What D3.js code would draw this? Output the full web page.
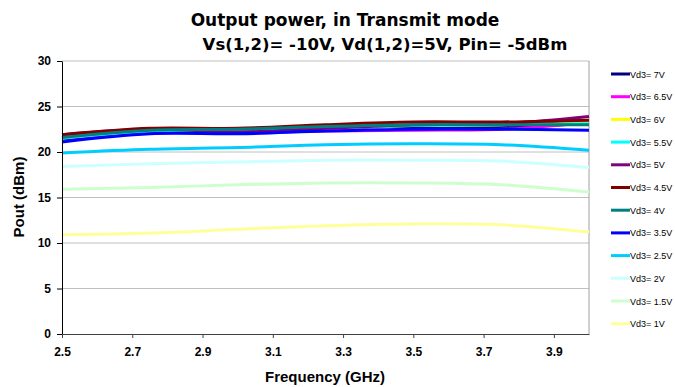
<!DOCTYPE html>
<html>
<head>
<meta charset="utf-8">
<script src="https://cdn.jsdelivr.net/npm/d3@7"></script>
<style>
body { margin: 0; background: #fff; }
text { font-family: "Liberation Sans", Arial, sans-serif; }
</style>
</head>
<body>
<div id="chart"></div>
<script>
var freqs = [2.5, 2.75, 3.0, 3.25, 3.5, 3.75, 4.0]
var seriesNames = ["Vd3= 7V", "Vd3= 6.5V", "Vd3= 6V", "Vd3= 5.5V", "Vd3= 5V", "Vd3= 4.5V", "Vd3= 4V", "Vd3= 3.5V", "Vd3= 2.5V", "Vd3= 2V", "Vd3= 1.5V", "Vd3= 1V"]
var seriesColors = ["#000080", "#ff00ff", "#ffff00", "#00ffff", "#800080", "#800000", "#008080", "#0000ff", "#00ccff", "#ccffff", "#ccffcc", "#ffff99"]
var v7   = [21.4, 22.2, 22.4, 22.7, 22.8, 22.7, 23.2]
var v65  = [21.5, 22.2, 22.2, 22.3, 22.4, 22.5, 23.2]
var v6   = [21.6, 22.3, 22.4, 22.7, 22.9, 23.0, 23.3]
var v55  = [21.5, 22.3, 22.4, 22.7, 22.9, 23.0, 23.1]
var v5   = [21.9, 22.5, 22.2, 22.6, 23.0, 23.1, 23.9]
var v45  = [21.9, 22.6, 22.6, 23.0, 23.3, 23.3, 23.5]
var v4   = [21.6, 22.4, 22.5, 22.8, 23.0, 23.0, 23.0]
var v35  = [21.1, 22.0, 22.0, 22.3, 22.5, 22.5, 22.4]
var v25  = [19.9, 20.3, 20.5, 20.8, 20.9, 20.8, 20.2]
var v2   = [18.4, 18.7, 18.9, 19.1, 19.1, 19.0, 18.3]
var v15  = [15.9, 16.1, 16.4, 16.6, 16.6, 16.4, 15.6]
var v1   = [10.9, 11.1, 11.5, 11.9, 12.1, 12.0, 11.2]
var allValues = [v7, v65, v6, v55, v5, v45, v4, v35, v25, v2, v15, v1]
var xTicks = [2.5, 2.7, 2.9, 3.1, 3.3, 3.5, 3.7, 3.9]
var yTicks = [0, 5, 10, 15, 20, 25, 30]

var svg = d3.select("#chart").append("svg").attr("width", 675).attr("height", 387)

var x = d3.scaleLinear().domain([2.5, 4.0]).range([62, 589])
var y = d3.scaleLinear().domain([0, 30]).range([334, 61])

// gridlines
svg.append("g").selectAll("line").data(yTicks.filter(function(d) { return d > 0 })).enter().append("line")
  .attr("x1", x(2.5)).attr("x2", x(4.0))
  .attr("y1", function(d) { return y(d) }).attr("y2", function(d) { return y(d) })
  .attr("stroke", "#c0c0c0").attr("stroke-width", 1)
svg.append("line").attr("x1", x(4.0)).attr("x2", x(4.0)).attr("y1", y(30)).attr("y2", y(0))
  .attr("stroke", "#a0a0a0").attr("stroke-width", 1)

// lines
var line = d3.line().x(function(d) { return x(d[0]) }).y(function(d) { return y(d[1]) }).curve(d3.curveCatmullRom.alpha(0.5))
var order = d3.range(allValues.length)
svg.append("g").selectAll("path").data(order).enter().append("path")
  .attr("d", function(i) { return line(freqs.map(function(f, j) { return [f, allValues[i][j]] })) })
  .attr("fill", "none")
  .attr("stroke", function(i) { return seriesColors[i] })
  .attr("stroke-width", 3)

// axes
var yAxis = svg.append("g").attr("transform", "translate(" + x(2.5) + ",0)")
  .call(d3.axisLeft(y).tickValues(yTicks).tickSize(5).tickSizeOuter(0))
yAxis.select(".domain").attr("stroke", "#000")
yAxis.selectAll("text").attr("font-size", 12).attr("font-weight", "bold").attr("fill", "#000").attr("dx", -3)

var xAxis = svg.append("g").attr("transform", "translate(0," + y(0) + ")")
  .call(d3.axisBottom(x).tickValues(xTicks).tickFormat(d3.format(".1f")).tickSize(4).tickSizeOuter(0))
xAxis.select(".domain").attr("stroke", "#404040")
xAxis.selectAll(".tick line").attr("stroke", "#404040")
xAxis.selectAll("text").attr("font-size", 12).attr("font-weight", "bold").attr("fill", "#000").attr("dy", "1.25em")

// titles
svg.append("text").attr("x", 345).attr("y", 26).attr("text-anchor", "middle")
  .style("font-family", "'DejaVu Sans', Verdana, sans-serif")
  .attr("font-size", 17).attr("font-weight", "bold").text("Output power, in Transmit mode")
svg.append("text").attr("x", 385).attr("y", 50).attr("text-anchor", "middle")
  .style("font-family", "'DejaVu Sans', Verdana, sans-serif")
  .attr("font-size", 16.5).attr("font-weight", "bold").text("Vs(1,2)= -10V, Vd(1,2)=5V, Pin= -5dBm")
svg.append("text").attr("x", 325).attr("y", 382).attr("text-anchor", "middle")
  .attr("font-size", 15).attr("font-weight", "bold").text("Frequency (GHz)")
svg.append("text").attr("transform", "translate(24,197) rotate(-90)").attr("text-anchor", "middle")
  .attr("font-size", 15).attr("font-weight", "bold").text("Pout (dBm)")

// legend
var legend = svg.append("g").selectAll("g").data(seriesNames).enter().append("g")
  .attr("transform", function(d, i) { return "translate(611," + (74 + i * 22.7) + ")" })
legend.append("line").attr("x1", 0).attr("x2", 19).attr("y1", 0).attr("y2", 0)
  .attr("stroke", function(d, i) { return seriesColors[i] }).attr("stroke-width", 3)
legend.append("text").attr("x", 19).attr("y", 3.5).attr("font-size", 9).attr("fill", "#000").text(function(d) { return d })
</script>
</body>
</html>
